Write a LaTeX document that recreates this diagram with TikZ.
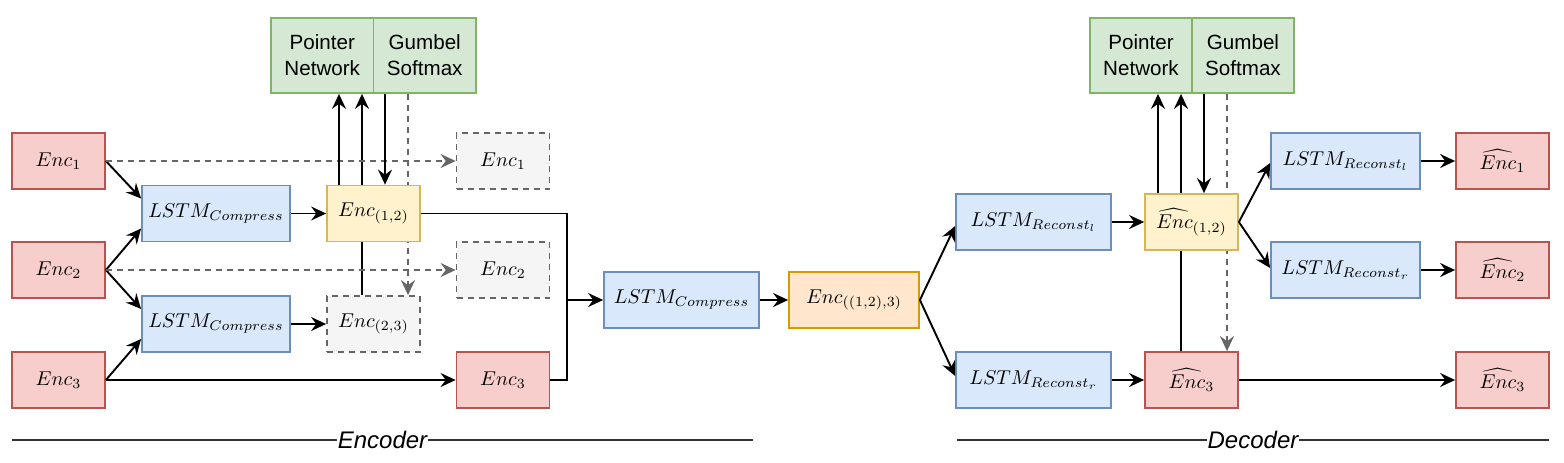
\documentclass[tikz,border=0pt]{standalone}
\usepackage{fontspec}
\setsansfont{Liberation Sans}
\usetikzlibrary{arrows.meta,calc}
\definecolor{redf}{HTML}{F8CECC}\definecolor{redd}{HTML}{B85450}
\definecolor{bluef}{HTML}{DAE8FC}\definecolor{blued}{HTML}{6C8EBF}
\definecolor{yelf}{HTML}{FFF2CC}\definecolor{yeld}{HTML}{D6B656}
\definecolor{grnf}{HTML}{D5E8D4}\definecolor{grnd}{HTML}{82B366}
\definecolor{gryf}{HTML}{F5F5F5}\definecolor{gryd}{HTML}{666666}
\definecolor{orf}{HTML}{FFE6CC}\definecolor{ord}{HTML}{D79B00}
\pgfdeclarelayer{bg}\pgfsetlayers{bg,main}
\begin{document}
\begin{tikzpicture}[x=0.5pt,y=-0.5pt,
  box/.style={draw, line width=0.9pt, inner sep=1pt, minimum height=28pt, font=\normalsize},
  redbox/.style={box, fill=redf, draw=redd, minimum width=46.5pt},
  yelbox/.style={box, fill=yelf, draw=yeld, minimum width=46.5pt},
  graybox/.style={box, fill=gryf, draw=gryd, dash pattern=on 3pt off 2.5pt, minimum width=46.5pt},
  orbox/.style={box, fill=orf, draw=ord, minimum width=65pt},
  bluebox/.style={box, fill=bluef, draw=blued, minimum width=#1},
  greenbox/.style={draw=grnd, fill=grnf, line width=0.9pt, minimum width=51.25pt, minimum height=37.5pt, align=center, inner sep=1pt, font=\sffamily\fontsize{10.3}{13}\selectfont},
  edge/.style={line width=0.95pt, -{Stealth[length=7.5pt,width=7pt,inset=2.6pt]}},
  plain/.style={line width=0.95pt},
  dedge/.style={line width=0.95pt, draw=gryd, dash pattern=on 3pt off 2.5pt, -{Stealth[length=7.5pt,width=7pt,inset=2.6pt]}},
  lbl/.style={inner sep=0pt, font=\sffamily\itshape\fontsize{12}{14}\selectfont},
  sepline/.style={line width=0.6pt, draw=black!80}
]
\useasboundingbox (0,0) rectangle (1564,462);

% ---------- Encoder ----------
\node[redbox] (e1) at (58.5,161) {$Enc_1$};
\node[redbox] (e2) at (58.5,270) {$Enc_2$};
\node[redbox] (e3) at (58.5,380) {$Enc_3$};
\node[bluebox=74pt] (l1) at (216,213.5) {$LSTM_{Compress}$};
\node[bluebox=74pt] (l2) at (216,324) {$LSTM_{Compress}$};
\node[yelbox] (e12) at (373.5,213.5) {$Enc_{(1,2)}$};
\node[graybox] (e23) at (373.5,324) {$Enc_{(2,3)}$};
\node[graybox] (g1) at (503,161) {$Enc_1$};
\node[graybox] (g2) at (503,270) {$Enc_2$};
\node[redbox] (e3r) at (503,380) {$Enc_3$};
\node[greenbox] (pn) at (322.25,55.5) {Pointer\\Network};
\node[greenbox] (gs) at (424.75,55.5) {Gumbel\\Softmax};
\coordinate (j) at (567,300);

\draw[edge] (e1.east) -- ($(l1.west)+(0,-15)$);
\draw[edge] (e2.east) -- ($(l1.west)+(0,15)$);
\draw[edge] (e2.east) -- ($(l2.west)+(0,-15)$);
\draw[edge] (e3.east) -- ($(l2.west)+(0,15)$);
\draw[dedge] (e1.east) -- (g1.west);
\draw[dedge] (e2.east) -- (g2.west);
\draw[edge] (e3.east) -- (e3r.west);
\draw[edge] (l1.east) -- (e12.west);
\draw[edge] (l2.east) -- (e23.west);
\draw[edge] ([xshift=-17.25pt]e12.north) -- ([xshift=-17.25pt]e12.north |- pn.south);
\draw[edge] ([xshift=5.75pt]e12.north |- gs.south) -- ([xshift=5.75pt]e12.north);
\begin{pgfonlayer}{bg}
\draw[edge] ([xshift=-5.75pt]e23.north) -- ([xshift=-5.75pt]e23.north |- pn.south);
\draw[dedge] ([xshift=17.25pt]e23.north |- gs.south) -- ([xshift=17.25pt]e23.north);
\end{pgfonlayer}
\draw[plain] (e12.east) -| (j);
\draw[plain] (e3r.east) -| (j);

% ---------- Middle ----------
\node[bluebox=77.5pt] (lm) at (681.5,300) {$LSTM_{Compress}$};
\node[orbox] (eo) at (854,300) {$Enc_{((1,2),3)}$};
\draw[edge] (j) -- (lm.west);
\draw[edge] (lm.east) -- (eo.west);

% ---------- Decoder ----------
\node[bluebox=77.5pt] (dl) at (1033.5,222) {$LSTM_{Reconst_l}$};
\node[bluebox=77.5pt] (dr) at (1033.5,380) {$LSTM_{Reconst_r}$};
\node[yelbox] (h12) at (1191.5,222) {$\widehat{Enc}_{(1,2)}$};
\node[redbox] (h3) at (1191.5,380) {$\widehat{Enc}_3$};
\node[bluebox=74.5pt] (rl) at (1345.5,161) {$LSTM_{Reconst_l}$};
\node[bluebox=74.5pt] (rr) at (1345.5,270) {$LSTM_{Reconst_r}$};
\node[redbox] (o1) at (1502.5,161) {$\widehat{Enc}_1$};
\node[redbox] (o2) at (1502.5,270) {$\widehat{Enc}_2$};
\node[redbox] (o3) at (1502.5,380) {$\widehat{Enc}_3$};
\node[greenbox] (pn2) at (1141,55.5) {Pointer\\Network};
\node[greenbox] (gs2) at (1243,55.5) {Gumbel\\Softmax};

\draw[edge] (eo.east) -- ($(dl.west)+(0,4)$);
\draw[edge] (eo.east) -- ($(dr.west)+(0,-4)$);
\draw[edge] (dl.east) -- (h12.west);
\draw[edge] (dr.east) -- (h3.west);
\draw[edge] (h12.east) -- ($(rl.west)+(0,2)$);
\draw[edge] (h12.east) -- ($(rr.west)+(0,-2)$);
\draw[edge] (rl.east) -- (o1.west);
\draw[edge] (rr.east) -- (o2.west);
\draw[edge] (h3.east) -- (o3.west);
\draw[edge] ([xshift=-16.75pt]h12.north) -- ([xshift=-16.75pt]h12.north |- pn2.south);
\draw[edge] ([xshift=6.25pt]h12.north |- gs2.south) -- ([xshift=6.25pt]h12.north);
\begin{pgfonlayer}{bg}
\draw[edge] ([xshift=-5.25pt]h3.north) -- ([xshift=-5.25pt]h3.north |- pn2.south);
\draw[dedge] ([xshift=17.75pt]h3.north |- gs2.south) -- ([xshift=17.75pt]h3.north);
\end{pgfonlayer}

% ---------- Section labels ----------
\node[lbl] (enc) at (382.5,440) {Encoder};
\coordinate (encL) at (12,440);
\coordinate (encR) at (753,440);
\draw[sepline] (encL) -- (enc.west);
\draw[sepline] (enc.east) -- (encR);
\node[lbl] (dec) at (1253,440) {Decoder};
\coordinate (decL) at (957,440);
\coordinate (decR) at (1549,440);
\draw[sepline] (decL) -- (dec.west);
\draw[sepline] (dec.east) -- (decR);
\end{tikzpicture}
\end{document}
